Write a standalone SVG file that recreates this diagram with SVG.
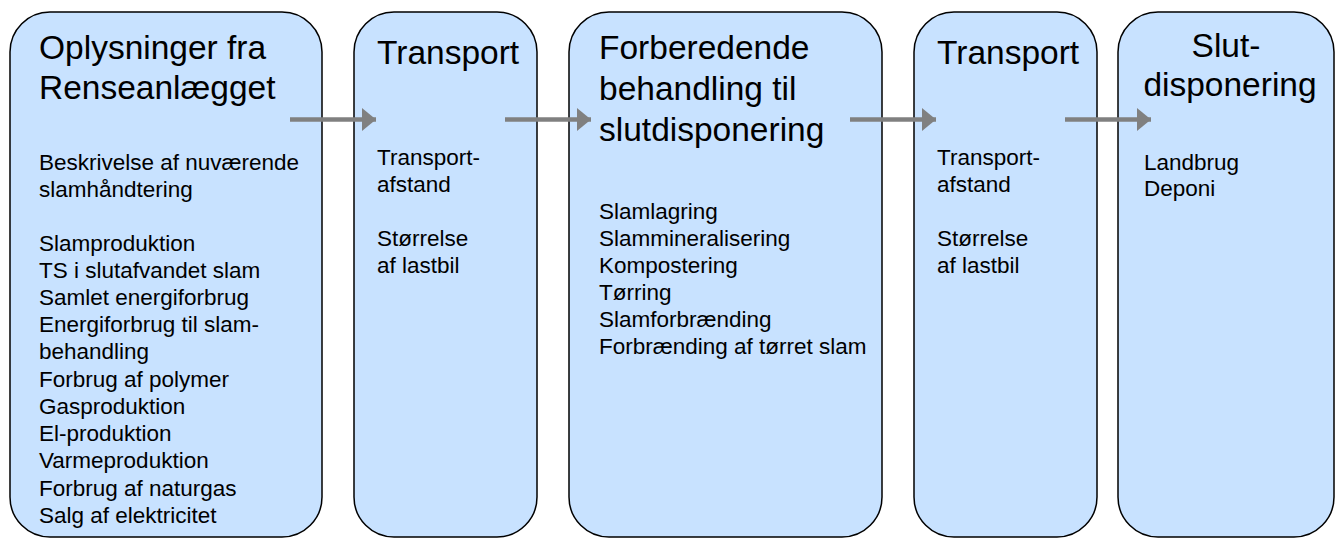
<svg xmlns="http://www.w3.org/2000/svg" width="1339" height="538" viewBox="0 0 1339 538">
<style>
.box{fill:#c8e2ff;stroke:#000;stroke-width:1.5}
.t{font-family:"Liberation Sans",Arial,sans-serif;font-size:33.5px;fill:#000}
.b{font-family:"Liberation Sans",Arial,sans-serif;font-size:22.5px;fill:#000}
.conn{stroke:#808080;stroke-width:4.5;fill:none}
</style>
<defs>
<marker id="ah" markerUnits="userSpaceOnUse" markerWidth="14" markerHeight="24" refX="14" refY="12" orient="auto">
<path d="M0,0.5 L14,12 L0,23.5 Z" fill="#808080"/>
</marker>
</defs>
<g id="node-renseanlaeg">
<rect class="box" x="10" y="12" width="312" height="525" rx="40" ry="40"/>
<text class="t"><tspan x="39" y="59">Oplysninger fra</tspan><tspan x="39" y="99">Renseanlægget</tspan></text>
<text class="b"><tspan x="39" y="170">Beskrivelse af nuværende</tspan><tspan x="39" y="197">slamhåndtering</tspan><tspan x="39" y="251">Slamproduktion</tspan><tspan x="39" y="278">TS i slutafvandet slam</tspan><tspan x="39" y="305">Samlet energiforbrug</tspan><tspan x="39" y="332">Energiforbrug til slam-</tspan><tspan x="39" y="359">behandling</tspan><tspan x="39" y="386.5">Forbrug af polymer</tspan><tspan x="39" y="414">Gasproduktion</tspan><tspan x="39" y="441">El-produktion</tspan><tspan x="39" y="468">Varmeproduktion</tspan><tspan x="39" y="495.5">Forbrug af naturgas</tspan><tspan x="39" y="523">Salg af elektricitet</tspan></text>
</g>
<g id="node-transport1">
<rect class="box" x="354" y="12" width="183" height="525" rx="40" ry="40"/>
<text class="t" x="377" y="64">Transport</text>
<text class="b"><tspan x="377" y="165">Transport-</tspan><tspan x="377" y="192">afstand</tspan><tspan x="377" y="245.5">Størrelse</tspan><tspan x="377" y="272.5">af lastbil</tspan></text>
</g>
<g id="node-behandling">
<rect class="box" x="569" y="12" width="313" height="525" rx="40" ry="40"/>
<text class="t"><tspan x="599" y="59">Forberedende</tspan><tspan x="599" y="100">behandling til</tspan><tspan x="599" y="141">slutdisponering</tspan></text>
<text class="b"><tspan x="599" y="218.5">Slamlagring</tspan><tspan x="599" y="245.5">Slammineralisering</tspan><tspan x="599" y="272.5">Kompostering</tspan><tspan x="599" y="299.5">Tørring</tspan><tspan x="599" y="326.5">Slamforbrænding</tspan><tspan x="599" y="353.5">Forbrænding af tørret slam</tspan></text>
</g>
<g id="node-transport2">
<rect class="box" x="914" y="12" width="183" height="525" rx="40" ry="40"/>
<text class="t" x="937" y="64">Transport</text>
<text class="b"><tspan x="937" y="165">Transport-</tspan><tspan x="937" y="192">afstand</tspan><tspan x="937" y="245.5">Størrelse</tspan><tspan x="937" y="272.5">af lastbil</tspan></text>
</g>
<g id="node-slutdisponering">
<rect class="box" x="1118" y="12" width="216" height="525" rx="40" ry="40"/>
<text class="t" text-anchor="middle"><tspan x="1226" y="57">Slut-</tspan><tspan x="1230" y="96">disponering</tspan></text>
<text class="b"><tspan x="1144" y="170">Landbrug</tspan><tspan x="1144" y="196">Deponi</tspan></text>
</g>
<g id="connectors">
<line class="conn" x1="290" y1="119.5" x2="376" y2="119.5" marker-end="url(#ah)"/>
<line class="conn" x1="505" y1="119.5" x2="591" y2="119.5" marker-end="url(#ah)"/>
<line class="conn" x1="850" y1="119.5" x2="936" y2="119.5" marker-end="url(#ah)"/>
<line class="conn" x1="1065" y1="119.5" x2="1151" y2="119.5" marker-end="url(#ah)"/>
</g>
</svg>
